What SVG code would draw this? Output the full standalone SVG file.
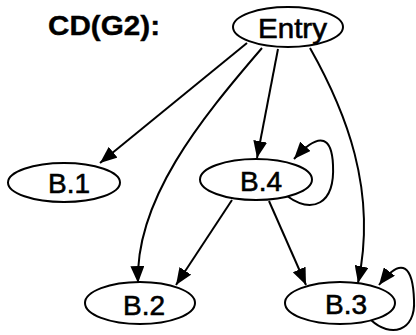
<svg xmlns="http://www.w3.org/2000/svg" width="416" height="335" viewBox="0 0 416 335">
  <style>
    .node ellipse { fill: #ffffff; stroke: #000000; stroke-width: 2; }
    .node text { font-family: "Liberation Sans", Arial, sans-serif; font-size: 28px; fill: #000000; stroke: #000000; stroke-width: 0.6; }
    .edge { fill: none; stroke: #000000; stroke-width: 2; marker-end: url(#arrow); }
    .title { font-family: "Liberation Sans", Arial, sans-serif; font-size: 28px; font-weight: bold; fill: #000000; stroke: #000000; stroke-width: 0.4; }
  </style>
  <defs>
    <marker id="arrow" markerUnits="userSpaceOnUse" markerWidth="18" markerHeight="14" refX="17" refY="7" orient="auto">
      <path d="M0,0 L17,7 L0,14 Z" fill="#000000"/>
    </marker>
  </defs>
  <rect width="416" height="335" fill="#ffffff"/>

  <text class="title" x="48" y="35" textLength="112" lengthAdjust="spacingAndGlyphs">CD(G2):</text>

  <g id="edges">
    <!-- Entry -> B.1 -->
    <path class="edge" d="M247,43 L100,163"/>
    <!-- Entry -> B.2 -->
    <path class="edge" d="M262,48 C200,120 135,200 138,283"/>
    <!-- Entry -> B.4 -->
    <path class="edge" d="M278,49 L257,158"/>
    <!-- Entry -> B.3 -->
    <path class="edge" d="M310,48 C345,110 378,190 358,283"/>
    <!-- B.4 -> B.2 -->
    <path class="edge" d="M232,200 L176,285"/>
    <!-- B.4 -> B.3 -->
    <path class="edge" d="M269,201 L306,285"/>
    <!-- B.4 self loop -->
    <path class="edge" d="M287,196 C312,214 335,205 333,165 C332,140 322,128 294,159"/>
    <!-- B.3 self loop -->
    <path class="edge" d="M371,320 C390,338 416,332 414,300 C413,268 403,254 379,285"/>
  </g>

  <g id="entry" class="node">
    <ellipse cx="288" cy="27" rx="55" ry="20"/>
    <text x="258" y="38" textLength="69" lengthAdjust="spacingAndGlyphs">Entry</text>
  </g>
  <g id="b1" class="node">
    <ellipse cx="64" cy="182.5" rx="56" ry="19.5"/>
    <text x="48" y="193">B.1</text>
  </g>
  <g id="b4" class="node">
    <ellipse cx="256" cy="179.5" rx="56" ry="20.5"/>
    <text x="240" y="191">B.4</text>
  </g>
  <g id="b2" class="node">
    <ellipse cx="140" cy="303" rx="55" ry="21"/>
    <text x="123" y="315">B.2</text>
  </g>
  <g id="b3" class="node">
    <ellipse cx="340" cy="303" rx="55" ry="21"/>
    <text x="325" y="314">B.3</text>
  </g>
</svg>
